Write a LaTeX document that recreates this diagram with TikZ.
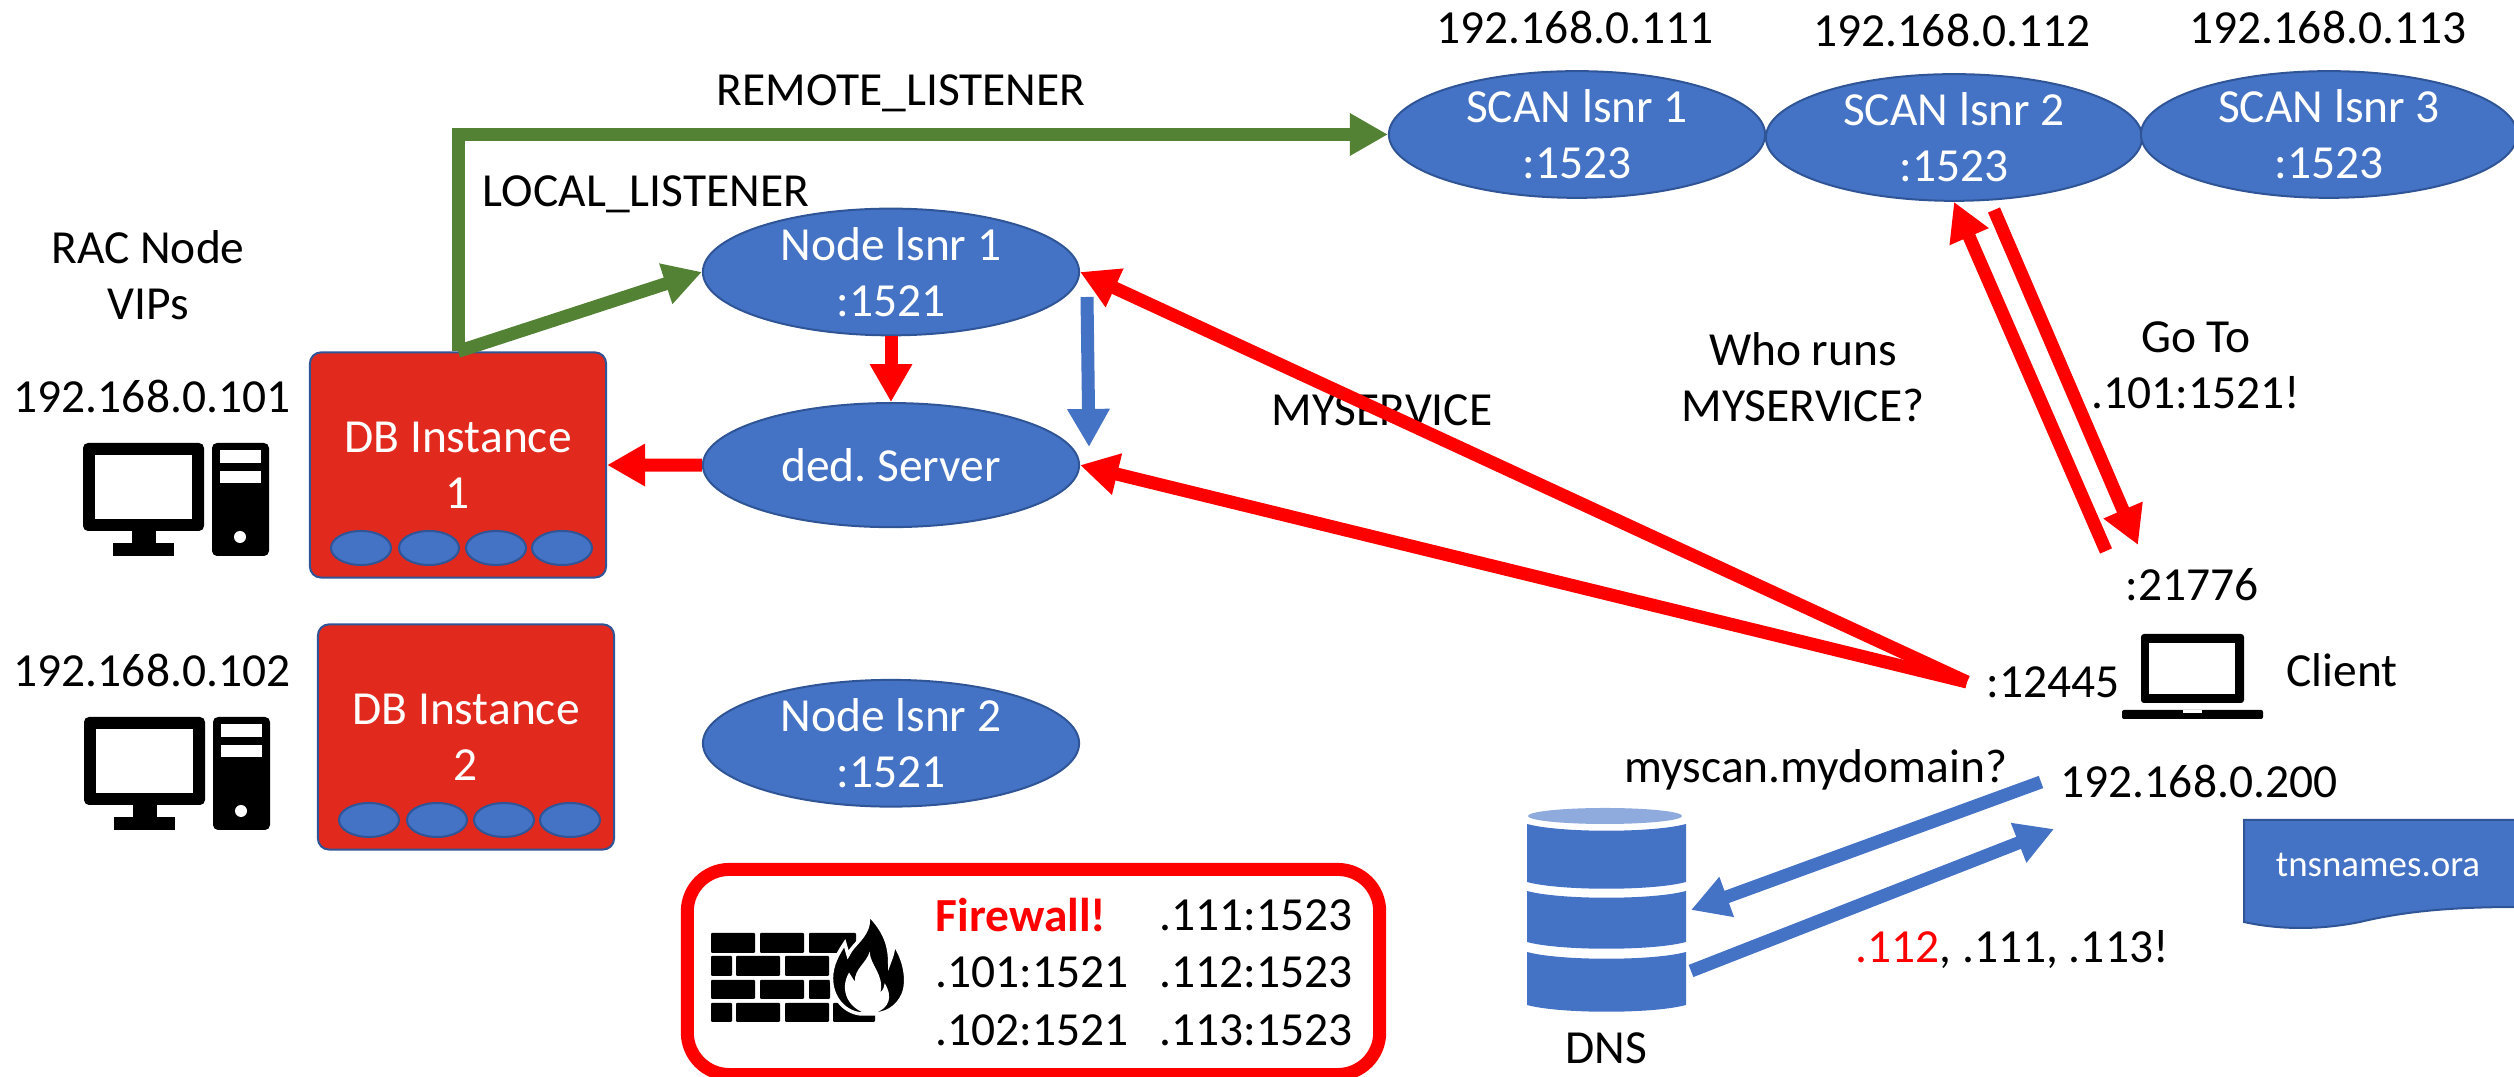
\documentclass[tikz,border=0pt]{standalone}
\usepackage{fontspec}
\setmainfont{Carlito}
\frenchspacing
\usetikzlibrary{positioning}
\usetikzlibrary{shapes.geometric, arrows.meta}
\definecolor{shapeblue}{HTML}{4472C4}
\definecolor{edgeblue}{HTML}{2F5597}
\definecolor{lightblue}{HTML}{8FAADC}
\definecolor{instred}{HTML}{E1291E}
\definecolor{arrowgreen}{HTML}{548235}
\tikzstyle{lsnr} = [ellipse, minimum width=3.76cm, minimum height=1.24cm, inner sep=0pt, align=center, text=white, draw=edgeblue, line width=.02cm, fill=shapeblue]
\tikzstyle{dbinstance} = [rectangle, rounded corners=.11cm, minimum width=2.96cm, minimum height=2.25cm, align=center, text=white, draw=edgeblue, line width=.02cm, fill=instred]
\tikzstyle{procoval} = [ellipse, minimum width=.6cm, minimum height=.34cm, inner sep=0pt, draw=edgeblue, line width=.02cm, fill=shapeblue]
\tikzstyle{lbl} = [inner sep=0pt, align=center]
\tikzstyle{redarrow} = [line width=.13cm, red, -{Triangle[length=.38cm,width=.4cm]}]
\tikzstyle{greenarrow} = [line width=.13cm, arrowgreen, -{Triangle[length=.38cm,width=.4cm]}]
\tikzstyle{bluearrow} = [line width=.13cm, shapeblue, -{Triangle[length=.38cm,width=.4cm]}]
\tikzset{computer/.pic={
	\fill[rounded corners=.05cm] (0,0) rectangle (121,88);
	\fill[white] (12,12) rectangle (109,76);
	\fill (49,88) rectangle (73,100);
	\fill (30,100) rectangle (91,113);
	\fill[rounded corners=.05cm] (129,0) rectangle (186,113);
	\fill[white] (137,7) rectangle (178,20);
	\fill[white] (137,28) rectangle (178,40);
	\fill[white] (157,94) circle [radius=.06cm];
}}
\begin{document}
\begin{tikzpicture}[x=.01cm, y=-.01cm, every node/.style={font=\fontsize{13.5}{16}\selectfont}]
	\useasboundingbox (0,0) rectangle (2514,1077);
	
	% listeners
	\node (scanOne) [lsnr] at (1577,134.5) {SCAN lsnr 1\\:1523};
	\node (scanTwo) [lsnr] at (1954,137.5) {SCAN lsnr 2\\:1523};
	\node (scanThree) [lsnr] at (2329,134.5) {SCAN lsnr 3\\:1523};
	\node (nodeLsnrOne) [lsnr] at (891,272) {Node lsnr 1\\:1521};
	\node (dedServer) [lsnr, node distance=1.93cm, below of=nodeLsnrOne] {ded. Server};
	\node (nodeLsnrTwo) [lsnr, node distance=2.78cm, below of=dedServer] {Node lsnr 2\\:1521};
	
	% instances
	\node (dbOne) [dbinstance] at (458,465) {DB Instance\\1};
	\node (dbTwo) [dbinstance] at (466,737) {DB Instance\\2};
	\foreach \x in {361,429,496,562}
		\node (procOne\x) [procoval] at (\x,548) {};
	\foreach \x in {369,437,504,570}
		\node (procTwo\x) [procoval] at (\x,820) {};
	
	\pic (computerOne) at (83,443) {computer};
	\pic (computerTwo) at (84,717) {computer};
	
	% labels
	\node (ipOne) [lbl] at (1575,27) {192.168.0.111};
	\node (ipTwo) [lbl] at (1952,30) {192.168.0.112};
	\node (ipThree) [lbl] at (2328,27) {192.168.0.113};
	\node (remoteLabel) [lbl] at (901,93) {REMOTE\_LISTENER};
	\node (localLabel) [lbl] at (646,194) {LOCAL\_LISTENER};
	\node (vipLabel) [lbl] at (148,275) {RAC Node\\VIPs};
	\node (vipOne) [lbl] at (152,396) {192.168.0.101};
	\node (vipTwo) [lbl] at (152,670) {192.168.0.102};
	\node (serviceLabel) [lbl] at (1382,410) {MYSERVICE};
	\node (whoLabel) [lbl] at (1803,377) {Who runs\\MYSERVICE?};
	\node (goLabel) [lbl] at (2196,365) {Go To\\.101:1521!};
	\node (portHigh) [lbl] at (2192,585) {:21776};
	\node (portLow) [lbl] at (2053,682) {:12445};
	\node (clientLabel) [lbl] at (2342,670) {Client};
	\node (askLabel) [lbl] at (1816,770) {myscan.mydomain?};
	\node (clientIp) [lbl] at (2199,781) {192.168.0.200};
	\node (answerLabel) [lbl] at (2012,950) {{\color{red}.112}, .111, .113!};
	\node (dnsLabel) [lbl] at (1606,1048) {DNS};
	
	% laptop
	\fill[rounded corners=.03cm] (2141,634) rectangle (2244,703);
	\fill[white] (2149,643) rectangle (2235,694);
	\fill[rounded corners=.02cm] (2122,710) rectangle (2263,719);
	\fill[white] (2183,710) rectangle (2202,713);
	
	% dns cylinder
	\fill[lightblue] (1605,816) ellipse [x radius=.77cm, y radius=.08cm];
	\foreach \top/\bot in {824/882, 891/942, 952/1005}
		\fill[shapeblue] (1527,\top) .. controls (1560,\top+9) and (1653,\top+9) .. (1686,\top) -- (1686,\bot) .. controls (1653,\bot+9) and (1560,\bot+9) .. (1527,\bot) -- cycle;
	
	% tnsnames
	\draw[fill=shapeblue, draw=edgeblue, line width=.02cm] (2244,820) -- (2520,820) -- (2520,907) .. controls (2460,907) and (2410,910) .. (2360,922) .. controls (2320,930) and (2280,930) .. (2244,922) -- cycle;
	\node (tnsnames) [lbl, text=white, font=\fontsize{10.5}{12}\selectfont] at (2378,865) {tnsnames.ora};
	
	% firewall
	\node (firewall) [rectangle, rounded corners=.42cm, draw=red, line width=.13cm, minimum width=6.92cm, minimum height=2.05cm] at (1033.5,972) {};
	\node (fwTitle) [lbl, red, font=\fontsize{13.5}{16}\selectfont\bfseries, anchor=west] at (935,915) {Firewall!};
	\node (fwA) [lbl, anchor=west] at (935,972) {.101:1521};
	\node (fwB) [lbl, anchor=west] at (935,1030) {.102:1521};
	\node (fwC) [lbl, anchor=west] at (1159,915) {.111:1523};
	\node (fwD) [lbl, anchor=west] at (1159,972) {.112:1523};
	\node (fwE) [lbl, anchor=west] at (1159,1030) {.113:1523};
	\foreach \l/\r in {711/755, 760/804, 809/856}
		\fill[rounded corners=.01cm] (\l,933) rectangle (\r,953);
	\foreach \l/\r in {711/732, 736/780, 785/829}
		\fill[rounded corners=.01cm] (\l,956) rectangle (\r,976);
	\foreach \l/\r in {711/755, 760/804, 809/830}
		\fill[rounded corners=.01cm] (\l,980) rectangle (\r,999);
	\foreach \l/\r in {711/732, 736/780, 785/829, 833/875}
		\fill[rounded corners=.01cm] (\l,1003) rectangle (\r,1022);
	\begin{scope}[shift={(690,900)}, x=.00333cm, y=-.00333cm]
		\draw[fill=black, draw=white, line width=.035cm] (533,40) .. controls (575,80) and (600,125) .. (600,185) .. controls (608,165) and (612,150) .. (612,130) .. controls (640,170) and (655,225) .. (645,270) .. controls (635,310) and (600,340) .. (560,342) -- (510,342) .. controls (460,335) and (425,290) .. (425,235) .. controls (425,195) and (445,160) .. (465,130) -- (475,165) .. controls (490,130) and (550,100) .. (533,40) -- cycle;
		\fill[white] (540,155) .. controls (540,195) and (585,225) .. (572,278) .. controls (580,270) and (585,260) .. (585,250) .. controls (610,290) and (600,325) .. (555,340) -- (525,340) .. controls (470,320) and (450,265) .. (478,218) -- (495,245) .. controls (495,205) and (530,190) .. (540,155) -- cycle;
	\end{scope}
	
	% named free ends
	\coordinate (blueStart) at (1087,297);
	\coordinate (blueEnd) at (1089,447);
	\coordinate (lowPort) at (1967,682);
	\coordinate (upStart) at (2106,551);
	\coordinate (downStart) at (1994,210);
	\coordinate (downEnd) at (2138,545);
	\coordinate (askStart) at (2041,782);
	\coordinate (askEnd) at (1691,910);
	\coordinate (answerStart) at (1691,971);
	\coordinate (answerEnd) at (2054,829);
	
	\draw [greenarrow] (dbOne.north) |- (scanOne.west);
	\draw [greenarrow] (dbOne.north) -- (nodeLsnrOne.west);
	
	\draw [redarrow] (nodeLsnrOne) -- (dedServer);
	\draw [redarrow] (dedServer) -- (dbOne);
	\draw [bluearrow] (blueStart) -- (blueEnd);
	\draw [redarrow] (lowPort) -- (nodeLsnrOne.east);
	\draw [redarrow] (lowPort) -- (dedServer.east);
	\draw [redarrow] (upStart) -- (scanTwo.south);
	\draw [redarrow] (downStart) -- (downEnd);
	\draw [bluearrow] (askStart) -- (askEnd);
	\draw [bluearrow] (answerStart) -- (answerEnd);
\end{tikzpicture}
\end{document}
